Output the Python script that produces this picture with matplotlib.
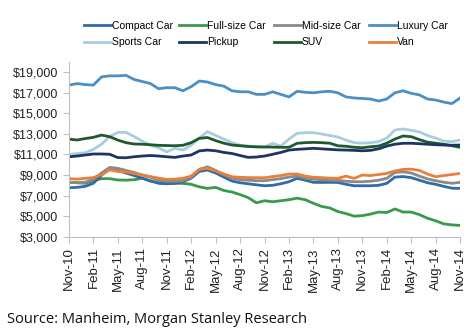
import numpy as np
import pandas as pd
import matplotlib
matplotlib.use("Agg")
import matplotlib.pyplot as plt
from matplotlib.ticker import FuncFormatter

plt.rcParams['font.family'] = ['Liberation Sans', 'DejaVu Sans']

# monthly, Nov-10 .. Nov-14
months = pd.date_range("2010-11-01", "2014-11-01", freq="MS")

compact = [7760, 7800, 7900, 8200, 9000, 9600, 9450, 9200, 8950, 8700,
           8450, 8200, 8150, 8200, 8350, 8700, 9350, 9490, 9200, 8800,
           8420, 8250, 8150, 8050, 7960, 8000, 8150, 8350, 8680, 8500,
           8290, 8280, 8290, 8280, 8100, 7960, 7960, 7960, 8000, 8190,
           8800, 8850, 8750, 8500, 8250, 8100, 7900, 7720, 7700]
fullsize = [8300, 8250, 8200, 8450, 8650, 8650, 8520, 8500, 8550, 8680,
            8400, 8250, 8190, 8190, 8190, 8100, 7850, 7700, 7800, 7500,
            7350, 7100, 6800, 6300, 6500, 6400, 6500, 6600, 6750, 6600,
            6250, 5950, 5800, 5450, 5250, 5000, 5050, 5200, 5400, 5350,
            5700, 5400, 5400, 5150, 4800, 4550, 4250, 4150, 4100]
midsize = [8300, 8250, 8300, 8600, 9200, 9750, 9650, 9450, 9250, 9000,
           8800, 8500, 8400, 8380, 8450, 8800, 9550, 9800, 9450, 9050,
           8700, 8550, 8500, 8450, 8450, 8550, 8650, 8800, 8900, 8700,
           8600, 8550, 8500, 8480, 8400, 8350, 8350, 8400, 8500, 8680,
           9250, 9320, 9200, 8900, 8620, 8450, 8300, 8200, 8290]
luxury = [17750, 17900, 17800, 17750, 18550, 18650, 18650, 18700, 18300, 18100,
          17900, 17400, 17500, 17500, 17200, 17600, 18150, 18050, 17800, 17650,
          17200, 17100, 17100, 16850, 16850, 17100, 16850, 16600, 17150, 17050,
          17000, 17100, 17150, 17000, 16600, 16500, 16450, 16400, 16200, 16400,
          17000, 17200, 16950, 16800, 16400, 16300, 16100, 15950, 16500]
sports = [11010, 11080, 11170, 11500, 12000, 12750, 13150, 13150, 12750, 12300,
          11900, 11650, 11250, 11600, 11430, 11900, 12600, 13220, 12850, 12500,
          12150, 11900, 11820, 11760, 11730, 12090, 11820, 12500, 13060, 13120,
          13120, 13000, 12850, 12700, 12400, 12150, 12100, 12150, 12250, 12600,
          13380, 13480, 13350, 13200, 12850, 12600, 12300, 12250, 12410]
pickup = [10780, 10850, 10950, 11050, 11050, 11020, 10700, 10680, 10780, 10850,
          10900, 10850, 10780, 10720, 10850, 10950, 11350, 11430, 11360, 11200,
          11100, 10900, 10720, 10750, 10850, 11020, 11200, 11430, 11500, 11550,
          11600, 11550, 11500, 11450, 11430, 11400, 11360, 11400, 11550, 11820,
          12000, 12090, 12090, 12050, 12000, 11950, 11920, 11900, 11920]
suv = [12500, 12410, 12550, 12670, 12890, 12730, 12400, 12150, 12020, 12000,
       11950, 11890, 11870, 11850, 11900, 12150, 12570, 12650, 12350, 12100,
       11920, 11850, 11780, 11740, 11730, 11720, 11700, 11700, 12090, 12150,
       12180, 12150, 12100, 11850, 11800, 11700, 11660, 11750, 11820, 12100,
       12500, 12800, 12730, 12450, 12200, 12100, 11990, 11850, 11700]
van = [8650, 8600, 8680, 8750, 9050, 9500, 9350, 9300, 9150, 9000,
       8850, 8700, 8580, 8600, 8680, 8900, 9550, 9650, 9400, 9100,
       8840, 8780, 8750, 8740, 8740, 8850, 8950, 9100, 9100, 8900,
       8780, 8750, 8700, 8680, 8900, 8670, 9000, 8950, 9050, 9160,
       9400, 9550, 9580, 9450, 9100, 8840, 8950, 9050, 9160]

names = ["Compact Car", "Full-size Car", "Mid-size Car", "Luxury Car",
         "Sports Car", "Pickup", "SUV", "Van"]
series = [compact, fullsize, midsize, luxury, sports, pickup, suv, van]
colors = ["#2f6ca8", "#3a9a4c", "#8a8a8a", "#4a8fc6",
          "#a9cde0", "#1d3563", "#1f5a2e", "#e8803c"]

fig = plt.figure(figsize=(4.69, 3.36), dpi=100)
ax = fig.add_axes([0.147, 0.2955, 0.834, 0.52])

x = np.arange(len(months))
lines = {}
# draw order: lower layers first
for i in [4, 3, 6, 5, 1, 0, 2, 7]:
    lines[i], = ax.plot(x, series[i], color=colors[i], lw=2.0, label=names[i])

ax.set_xlim(0, len(months) - 1)
ax.set_ylim(3000, 20000)
ax.set_yticks(np.arange(3000, 20000, 2000))
ax.yaxis.set_major_formatter(FuncFormatter(lambda v, p: "${:,.0f}".format(v)))
ax.set_xticks(x[::3])
ax.set_xticklabels([m.strftime("%b-%y") for m in months[::3]], rotation=90)

for s in ["top", "right"]:
    ax.spines[s].set_visible(False)
for s in ["left", "bottom"]:
    ax.spines[s].set_color("#bfbfbf")
ax.tick_params(axis="both", colors="#bfbfbf", labelcolor="#222222",
               labelsize=9, length=4, width=0.8)
ax.tick_params(axis="x", labelsize=9.5)

# legend: 4 fixed-width columns, 2 rows (row 1 = first four names)
col_x = [75, 170, 265, 360]
for c in range(4):
    pair = [c, c + 4]
    fig.legend([lines[k] for k in pair], [names[k] for k in pair],
               loc="upper left", bbox_to_anchor=(col_x[c] / 469, 0.965),
               frameon=False, fontsize=7.5, handlelength=2.6,
               handletextpad=0.05, labelspacing=0.6)

fig.text(0.015, 0.04, "Source: Manheim, Morgan Stanley Research",
         fontsize=10.5, family=["Open Sans", "DejaVu Sans"], color="#111111")

fig.savefig("out.png", dpi=100)
